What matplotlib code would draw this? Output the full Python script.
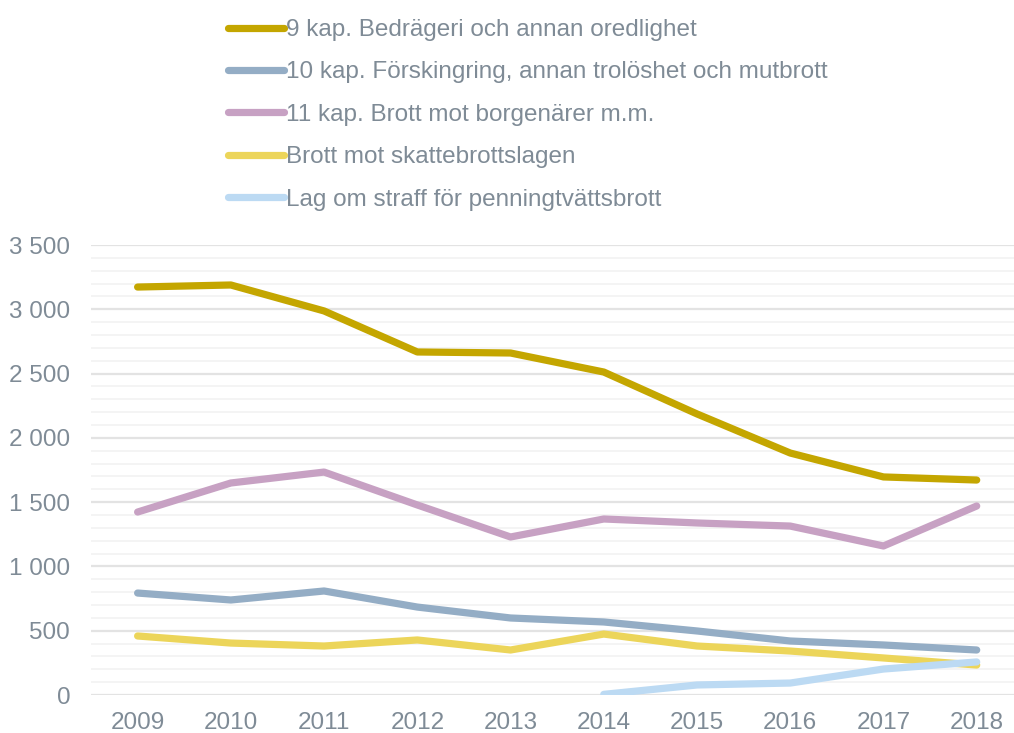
import numpy as np
import matplotlib
matplotlib.use("Agg")
import matplotlib.pyplot as plt
from matplotlib.ticker import MultipleLocator, FuncFormatter

years = [2009, 2010, 2011, 2012, 2013, 2014, 2015, 2016, 2017, 2018]

bedrageri = [3173, 3189, 2987, 2668, 2660, 2512, 2186, 1882, 1696, 1672]
forskingring = [793, 739, 809, 684, 599, 568, 498, 420, 389, 350]
borgenarer = [1423, 1649, 1734, 1478, 1229, 1369, 1338, 1314, 1159, 1470]
skattebrott = [459, 404, 381, 428, 350, 474, 381, 342, 288, 233]
penning_years = [2014, 2015, 2016, 2017, 2018]
penningtvatt = [5, 78, 93, 202, 257]

labels = ["9 kap. Bedrägeri och annan oredlighet",
          "10 kap. Förskingring, annan trolöshet och mutbrott",
          "11 kap. Brott mot borgenärer m.m.",
          "Brott mot skattebrottslagen",
          "Lag om straff för penningtvättsbrott"]
colors = ["#c4a600", "#94adc5", "#c7a1c3", "#ecd55a", "#bcdaf3"]

plt.rcParams['font.family'] = ['Liberation Sans', 'DejaVu Sans']
text_color = "#7f8b96"
fs = 17.5

fig = plt.figure(figsize=(10.14, 7.33), dpi=100)
ax = fig.add_axes([91 / 1014, 1 - 695 / 733, 1 - 91 / 1014, (695 - 245) / 733])

x = np.arange(len(years))
xp = np.array([years.index(y) for y in penning_years])
series = [(x, bedrageri), (x, forskingring), (x, borgenarer), (x, skattebrott), (xp, penningtvatt)]
handles = []
for (xs, ys), lab, c in zip(series, labels, colors):
    h, = ax.plot(xs, ys, color=c, lw=5.2, solid_capstyle='round', solid_joinstyle='round', label=lab)
    handles.append(h)

ax.set_xlim(-0.5, 9.4)
ax.set_ylim(0, 3500)
ax.set_xticks(x)
ax.set_xticklabels([str(y) for y in years])
ax.yaxis.set_major_locator(MultipleLocator(500))
ax.yaxis.set_minor_locator(MultipleLocator(100))
ax.yaxis.set_major_formatter(FuncFormatter(lambda v, p: f"{int(v):,}".replace(",", " ")))
ax.grid(axis='y', which='major', color='#e3e3e3', lw=1.6)
ax.grid(axis='y', which='minor', color='#f2f2f2', lw=1.2)
ax.set_axisbelow(True)
for s in ax.spines.values():
    s.set_visible(False)
ax.tick_params(axis='both', which='both', length=0, labelsize=fs, colors=text_color)
ax.tick_params(axis='y', pad=15)
ax.tick_params(axis='x', pad=12)

fig.legend(handles=handles, labels=labels, loc='upper left', bbox_to_anchor=(228 / 1014, 1 - 19 / 733),
           frameon=False, fontsize=fs, labelcolor=text_color, handlelength=2.3,
           handletextpad=0.1, labelspacing=0.84, borderaxespad=0, borderpad=0)

fig.savefig("out.png", dpi=100)
